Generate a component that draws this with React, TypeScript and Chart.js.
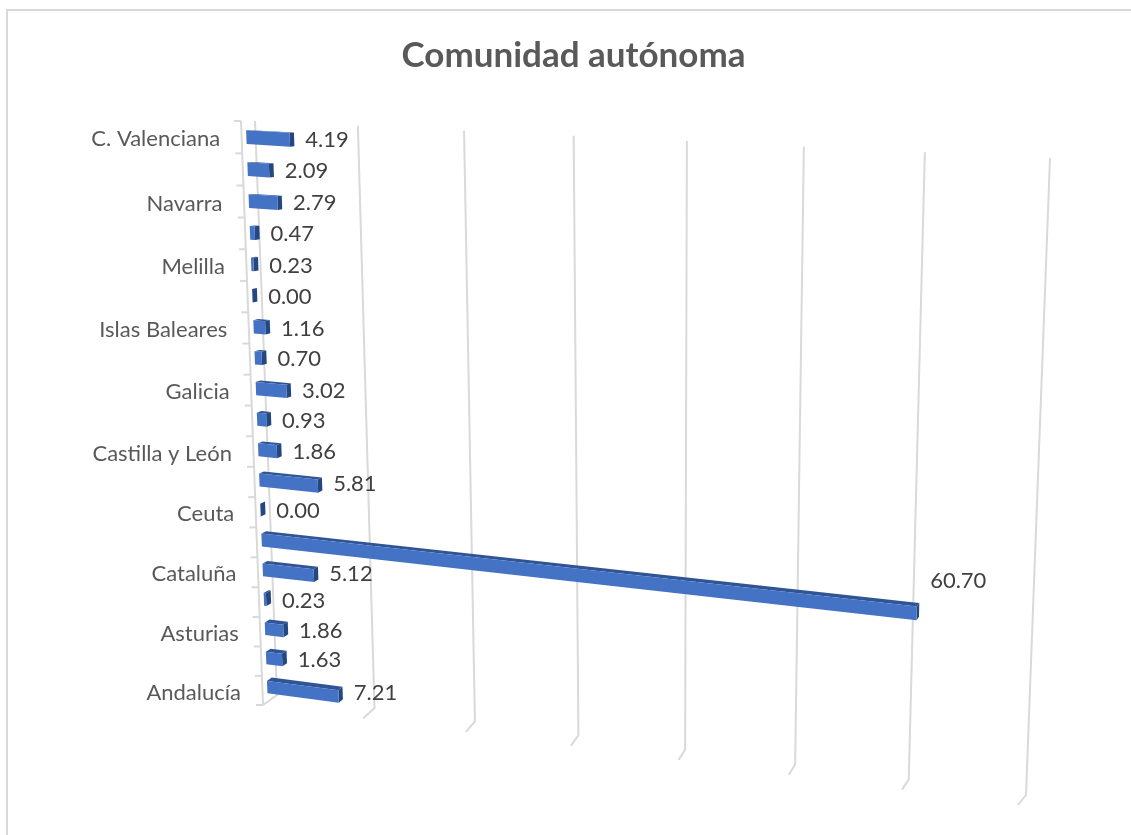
import React, { useEffect, useRef } from "react";
import { Chart, registerables } from "chart.js";

Chart.register(...registerables);

const categories = [
  "Andalucía", "Aragón", "Asturias", "Cantabria", "Cataluña", "Comunidad de Madrid",
  "Ceuta", "Castilla-La Mancha", "Castilla y León", "Extremadura", "Galicia", "La Rioja",
  "Islas Baleares", "Islas Canarias", "Melilla", "Murcia", "Navarra", "País Vasco", "C. Valenciana",
];
const shares = [7.21, 1.63, 1.86, 0.23, 5.12, 60.7, 0.0, 5.81, 1.86, 0.93, 3.02, 0.7, 1.16, 0.0, 0.23, 0.47, 2.79, 2.09, 4.19];
const titleText = "Comunidad autónoma";
const axisMax = 70;
const axisStep = 10;

type Pt = [number, number];
// Quadrilaterals of the perspective box: bottom-left, bottom-right, top-right, top-left
const BACK: Pt[] = [[277, 695], [1026, 795], [1050, 158], [255, 121]];
const FRONT: Pt[] = [[263, 705], [1018, 805], [1040, 172], [241, 121]];
const BAR_FRONT_D = 0.66;
const BAR_BACK_D = 0.32;

function project(u: number, v: number, d: number): Pt {
  const q = [0, 1, 2, 3].map((i): Pt => [
    BACK[i][0] + (FRONT[i][0] - BACK[i][0]) * d,
    BACK[i][1] + (FRONT[i][1] - BACK[i][1]) * d,
  ]);
  const [p0, p1, p2, p3] = q;
  const dx1 = p1[0] - p2[0], dx2 = p3[0] - p2[0], sx = p0[0] - p1[0] + p2[0] - p3[0];
  const dy1 = p1[1] - p2[1], dy2 = p3[1] - p2[1], sy = p0[1] - p1[1] + p2[1] - p3[1];
  const den = dx1 * dy2 - dx2 * dy1;
  const g = (sx * dy2 - dx2 * sy) / den;
  const h = (dx1 * sy - sx * dy1) / den;
  const a = p1[0] - p0[0] + g * p1[0], b = p3[0] - p0[0] + h * p3[0], c = p0[0];
  const e = p1[1] - p0[1] + g * p1[1], f = p3[1] - p0[1] + h * p3[1], k = p0[1];
  const w = g * u + h * v + 1;
  return [(a * u + b * v + c) / w, (e * u + f * v + k) / w];
}

function poly(ctx: CanvasRenderingContext2D, pts: Pt[], fill: string) {
  ctx.beginPath();
  pts.forEach((p, i) => (i ? ctx.lineTo(p[0], p[1]) : ctx.moveTo(p[0], p[1])));
  ctx.closePath();
  ctx.fillStyle = fill;
  ctx.fill();
}

function line(ctx: CanvasRenderingContext2D, pts: Pt[]) {
  ctx.beginPath();
  pts.forEach((p, i) => (i ? ctx.lineTo(p[0], p[1]) : ctx.moveTo(p[0], p[1])));
  ctx.stroke();
}

const perspective = {
  id: "perspective",
  beforeDatasetDraw(chart: any) {
    const { ctx, chartArea: ca, scales } = chart;
    const U = (px: number) => (px - ca.left) / (ca.right - ca.left);
    const V = (px: number) => (ca.bottom - px) / (ca.bottom - ca.top);
    const x = scales.x, y = scales.y;
    ctx.save();

    // frame
    ctx.strokeStyle = "#d9d9d9";
    ctx.lineWidth = 2;
    ctx.strokeRect(7, 10, chart.width + 40, chart.height + 40);

    // gridlines with their floor stubs
    ctx.lineWidth = 2;
    x.ticks.forEach((t: any) => {
      const u = U(x.getPixelForValue(t.value));
      line(ctx, [project(u, 1, 0), project(u, 0, 0), project(u, 0, 1)]);
    });
    // category axis with tick stubs
    line(ctx, [project(0, 0, 1), project(0, 1, 1)]);
    categories.forEach((_, i) => {
      const top = V(y.getPixelForValue(i)) - 0.5 / categories.length;
      const p = project(0, top, 1);
      line(ctx, [p, [p[0] - 7, p[1]]]);
    });
    const pTop = project(0, 1, 1);
    line(ctx, [pTop, [pTop[0] - 7, pTop[1]]]);

    // bars
    const meta = chart.getDatasetMeta(0);
    meta.data.forEach((bar: any, i: number) => {
      const u0 = U(bar.base), u1 = U(bar.x);
      const vT = V(bar.y - bar.height / 2), vB = V(bar.y + bar.height / 2);
      const fd = BAR_FRONT_D, bd = BAR_BACK_D;
      poly(ctx, [project(u0, vT, bd), project(u1, vT, bd), project(u1, vT, fd), project(u0, vT, fd)], "#2f5597");
      poly(ctx, [project(u1, vT, bd), project(u1, vB, bd), project(u1, vB, fd), project(u1, vT, fd)], "#24477f");
      poly(ctx, [project(u0, vT, fd), project(u1, vT, fd), project(u1, vB, fd), project(u0, vB, fd)], "#4472c4");

      // value label
      const end = project(u1, 0.5 * (vT + vB), bd);
      const start = project(u0, 0.5 * (vT + vB), fd);
      const ly = start[1] + (project(u1, 0.5 * (vT + vB), fd)[1] - start[1]) * 0.55;
      ctx.font = "22px Lato";
      ctx.fillStyle = "#404040";
      ctx.textAlign = "left";
      ctx.textBaseline = "middle";
      ctx.fillText(shares[i].toFixed(2), end[0] + 11, ly + 1);

      // category label, every second one as in an auto-skipped axis
      if (i % 2 === 0) {
        const a = project(0, 0.5 * (vT + vB), 1);
        ctx.font = "22px Lato";
        ctx.fillStyle = "#595959";
        ctx.textAlign = "right";
        ctx.fillText(categories[i], a[0] - 21.5, a[1] + 2);
      }
    });
    ctx.restore();
    return false;
  },
};

export default function App() {
  const ref = useRef<HTMLCanvasElement | null>(null);
  useEffect(() => {
    const chart = new Chart(ref.current!, {
      type: "bar",
      data: {
        labels: categories,
        datasets: [{ label: titleText, data: shares, backgroundColor: "#4472c4", barPercentage: 0.43, categoryPercentage: 1 }],
      },
      options: {
        indexAxis: "y",
        responsive: false,
        animation: false,
        layout: { padding: { top: 10, left: 16 } },
        plugins: {
          legend: { display: false },
          tooltip: { enabled: false },
          title: {
            display: true,
            text: titleText,
            color: "#595959",
            font: { family: "Lato", size: 35, weight: "bold" },
            padding: { top: 25, bottom: 20 },
          },
        },
        scales: {
          x: { display: false, min: 0, max: axisMax, ticks: { stepSize: axisStep } },
          y: { display: false, reverse: true },
        },
      },
      plugins: [perspective],
    } as any);
    return () => chart.destroy();
  }, []);
  return (
    <div style={{ position: "fixed", left: 0, top: 0, width: 1131, height: 835, overflow: "hidden", background: "#fff" }}>
      <canvas ref={ref} width={1131} height={835} style={{ display: "block" }} />
    </div>
  );
}
